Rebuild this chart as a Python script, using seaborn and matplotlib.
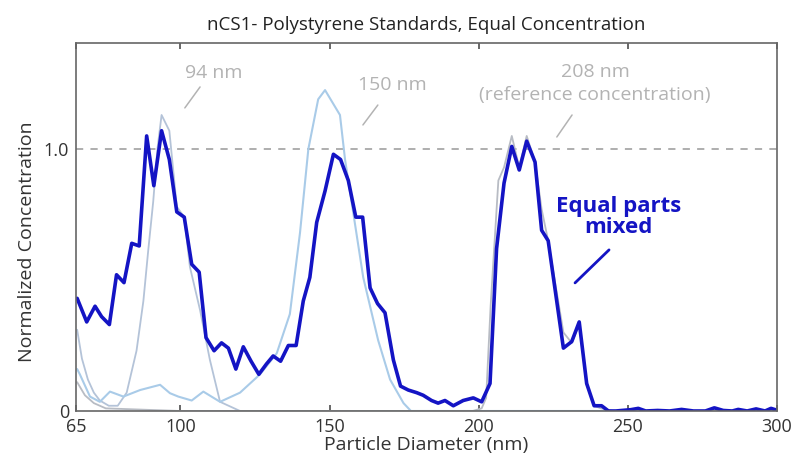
import numpy as np
import pandas as pd
import matplotlib
matplotlib.use("Agg")
import matplotlib.pyplot as plt
import seaborn as sns

# equal parts mixed (dark blue)
mix_x = [65.4, 68.6, 71.4, 73.6, 76.2, 78.6, 81.1, 83.7, 86.2, 88.7, 91.1, 93.7,
         96.3, 98.8, 101.3, 103.8, 106.3, 108.6, 111.3, 113.8, 116.1, 118.6, 121.1,
         123.7, 126.3, 128.9, 131.1, 133.6, 136.2, 138.8, 141.2, 143.4, 145.7, 148.5,
         151.3, 153.7, 156.3, 158.8, 161.1, 163.6, 166.1, 168.6, 171.4, 173.8, 176.4,
         179.2, 181.4, 184.2, 186.4, 188.7, 191.5, 194.8, 198.2, 201.0, 203.8, 206.0,
         208.5, 211.1, 213.6, 216.1, 218.9, 221.1, 223.3, 228.4, 231.2, 233.7, 236.2,
         238.7, 241.2, 243.5, 246, 249, 251, 253.5, 256, 260, 264, 268, 272, 276,
         279, 282, 285, 287, 290, 293, 296, 298, 300]
mix_y = [0.43, 0.34, 0.40, 0.36, 0.33, 0.52, 0.49, 0.64, 0.63, 1.05, 0.86, 1.07,
         0.96, 0.76, 0.74, 0.56, 0.53, 0.28, 0.23, 0.26, 0.24, 0.16, 0.245,
         0.19, 0.14, 0.18, 0.21, 0.19, 0.25, 0.25, 0.42, 0.51, 0.72, 0.84,
         0.98, 0.96, 0.88, 0.74, 0.74, 0.47, 0.41, 0.375, 0.195, 0.095, 0.08,
         0.07, 0.06, 0.04, 0.03, 0.04, 0.02, 0.04, 0.05, 0.035, 0.105, 0.62,
         0.87, 1.01, 0.92, 1.03, 0.95, 0.69, 0.65, 0.24, 0.265, 0.34, 0.105,
         0.02, 0.02, 0.0, 0.0, 0.003, 0.005, 0.01, 0.0, 0.002, 0.0, 0.006, 0.0, 0.0,
         0.012, 0.002, 0.0, 0.006, 0.0, 0.008, 0.0, 0.01, 0.003]

# 94 nm standard
s94_x = [65.4, 67, 69, 71, 73, 76, 79, 82, 85.3, 87.6, 89.2, 90.9, 92.3, 93.7,
         96.3, 98.8, 101.3, 103.2, 106.6, 109.9, 113.3, 120, 140, 180, 220, 260, 300]
s94_y = [0.31, 0.2, 0.12, 0.07, 0.04, 0.02, 0.02, 0.07, 0.23, 0.42, 0.61, 0.8, 1.0, 1.13,
         1.07, 0.78, 0.74, 0.55, 0.385, 0.195, 0.035, 0.0, 0.0, 0.0, 0.0, 0.0, 0.0]

# 150 nm standard
s150_x = [65.4, 66.3, 69.7, 73, 76.4, 80.9, 86.5, 93.2, 96.5, 99.3, 103.8, 107.7,
          113.3, 120, 126.7, 132.3, 136.7, 140.1, 142.9, 146.2, 148.5, 153.5, 155.2,
          161.3, 166.3, 170.3, 174.8, 177.3, 200, 240, 300]
s150_y = [0.16, 0.14, 0.055, 0.035, 0.074, 0.055, 0.08, 0.1, 0.068, 0.055, 0.04, 0.074,
          0.035, 0.07, 0.14, 0.22, 0.37, 0.68, 1.0, 1.19, 1.225, 1.13, 0.96,
          0.51, 0.27, 0.12, 0.03, 0.0, 0.0, 0.0, 0.0]

# 208 nm standard (reference concentration)
s208_x = [65.4, 68, 71, 75, 100, 150, 198, 201, 202.5, 204, 206.6, 208.5, 211.1, 213.6,
          216.1, 218.9, 221.1, 223.3, 228.4, 231.2, 233.7, 236.2, 238.7, 241, 245, 300]
s208_y = [0.11, 0.06, 0.03, 0.01, 0.0, 0.0, 0.0, 0.01, 0.05, 0.4, 0.88, 0.93, 1.05, 0.93,
          1.05, 0.95, 0.77, 0.65, 0.3, 0.26, 0.33, 0.1, 0.02, 0.01, 0.0, 0.0]

sns.set_theme(style="white")
plt.rcParams["font.family"] = ["Open Sans", "DejaVu Sans"]

fig = plt.figure(figsize=(8.03, 4.59), dpi=100)
ax = fig.add_axes([0.0946, 0.1046, 0.873, 0.8024])

sns.lineplot(x=s94_x, y=s94_y, ax=ax, color="#b4c3d8", linewidth=1.3)
sns.lineplot(x=s150_x, y=s150_y, ax=ax, color="#a9cbe8", linewidth=1.5)
sns.lineplot(x=s208_x, y=s208_y, ax=ax, color="#b8bcc4", linewidth=1.3)
sns.lineplot(x=mix_x, y=mix_y, ax=ax, color="#1414c4", linewidth=2.6)

ax.axhline(1.0, color="#a8a8a8", linestyle=(0, (4, 4)), linewidth=1.3, zorder=0)

ax.set_xlim(65, 300)
ax.set_ylim(0, 1.406)
ax.set_xticks([65, 100, 150, 200, 250, 300])
ax.set_xticklabels(["65", "100", "150", "200", "250", "300"])
ax.set_yticks([0, 1.0])
ax.set_yticklabels(["0", "1.0"])
ax.tick_params(axis="both", direction="in", length=4, color="#555555",
               labelsize=13, labelcolor="#333333", top=True)
ax.tick_params(axis="y", left=False, pad=5)
ax.tick_params(axis="x", bottom=True, pad=5)
for s in ax.spines.values():
    s.set_color("#666666")
    s.set_linewidth(1.2)

ax.set_title("nCS1- Polystyrene Standards, Equal Concentration", fontsize=13.5,
             color="#222222", pad=9)
ax.set_xlabel("Particle Diameter (nm)", fontsize=14, color="#333333", labelpad=0)
ax.set_ylabel("Normalized Concentration", fontsize=14, color="#333333", labelpad=3)
ax.yaxis.set_label_coords(-0.057, 0.46)

grey = "#b3b3b3"
ax.text(111.3, 1.29, "94 nm", color=grey, fontsize=14, ha="center", va="center")
ax.plot([101.5, 106.6], [1.157, 1.237], color=grey, linewidth=1.1)
ax.text(171.1, 1.244, "150 nm", color=grey, fontsize=14, ha="center", va="center")
ax.plot([161.2, 166.2], [1.092, 1.168], color=grey, linewidth=1.1)
ax.text(239.0, 1.294, "208 nm", color=grey, fontsize=14, ha="center", va="center")
ax.text(239.0, 1.206, "(reference concentration)", color=grey, fontsize=14,
        ha="center", va="center")
ax.plot([226.2, 231.3], [1.046, 1.13], color=grey, linewidth=1.1)
ax.text(247.0, 0.742, "Equal parts\nmixed", color="#1414c4", fontsize=16,
        fontweight="bold", ha="center", va="center", linespacing=1.0)
ax.plot([232.3, 243.7], [0.489, 0.615], color="#1414c4", linewidth=2)

fig.savefig("out.png", dpi=100)
